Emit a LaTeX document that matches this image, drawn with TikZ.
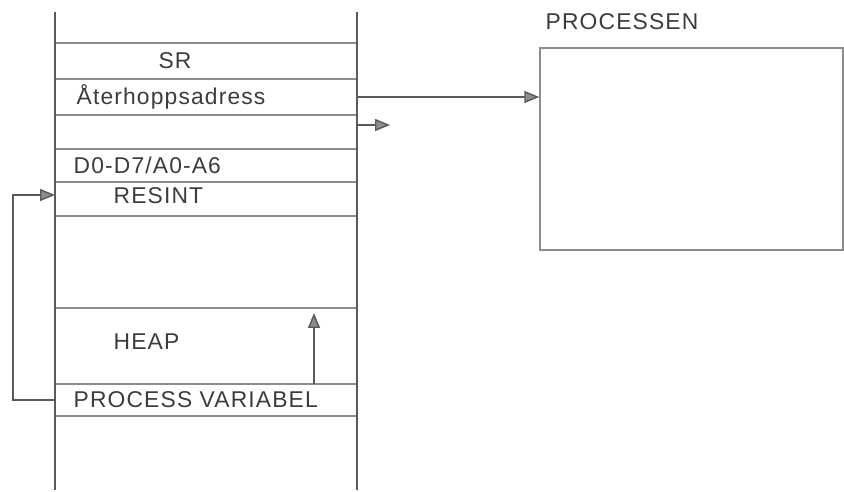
\documentclass[tikz,border=0pt]{standalone}
\usepackage{fontspec}
\usetikzlibrary{arrows.meta,positioning}
\newfontfamily\handfont[LetterSpace=5]{Liberation Sans}
\definecolor{pencil}{HTML}{8C8C8C}
\definecolor{lead}{HTML}{5A5A5A}
\definecolor{ink}{HTML}{3C3C3C}

\tikzset{
  slot/.style={draw=pencil, minimum width=6.04cm, inner sep=0pt, outer sep=0pt},
  txt/.style={anchor=west, inner sep=0pt, text=ink, font=\handfont\fontsize{13}{15}\selectfont},
  arr/.style={draw=lead, -{Triangle[length=3mm, width=2.4mm, fill=pencil]}},
}

\begin{document}
\begin{tikzpicture}[node distance=0pt, line width=0.8pt]
  \useasboundingbox (0, 0) rectangle (16.88, 9.84);

  % Stack slots
  \node[slot, minimum height=0.72cm] (sr) at (4.12, 8.62) {};
  \node[slot, minimum height=0.72cm, below=of sr] (ret) {};
  \node[slot, minimum height=0.68cm, below=of ret] (gap) {};
  \node[slot, minimum height=0.66cm, below=of gap] (regs) {};
  \node[slot, minimum height=0.68cm, below=of regs] (resint) {};
  \node[slot, minimum height=1.84cm, below=of resint] (free) {};
  \node[slot, minimum height=1.52cm, below=of free] (heap) {};
  \node[slot, minimum height=0.64cm, below=of heap] (pv) {};

  % Stack walls
  \draw[draw=lead] (1.10, 9.60) -- (1.10, 0.04);
  \draw[draw=lead] (7.14, 9.60) -- (7.14, 0.04);

  % Slot labels
  \node[txt, anchor=center] (srtxt) at (3.50, 8.62) {SR};
  \node[txt] (rettxt) at (1.52, 7.90) {Återhoppsadress};
  \node[txt] (regstxt) at (1.46, 6.54) {D0-D7/A0-A6};
  \node[txt] (resinttxt) at (2.26, 5.92) {RESINT};
  \node[txt] (heaptxt) at (2.26, 3.00) {HEAP};
  \node[txt] (pvtxt) at (1.46, 1.84) {PROCESS VARIABEL};

  % Process box
  \node[draw=pencil, minimum width=6.06cm, minimum height=4.04cm, inner sep=0pt] (proc) at (13.83, 6.86) {};
  \node[txt] (proctxt) at (10.90, 9.40) {PROCESSEN};

  % Connectors
  \draw[arr] (ret.east) -- (ret.east -| proc.west);
  \draw[arr] ([yshift=1.4mm]gap.east) -- ++(0.66, 0);
  \draw[arr] (pv.west) -- ++(-0.84, 0) |- ([yshift=0.8mm]resint.west);
  \draw[arr] ([xshift=-0.86cm]heap.south east) -- ([xshift=-0.86cm, yshift=-1mm]heap.north east);
\end{tikzpicture}
\end{document}
